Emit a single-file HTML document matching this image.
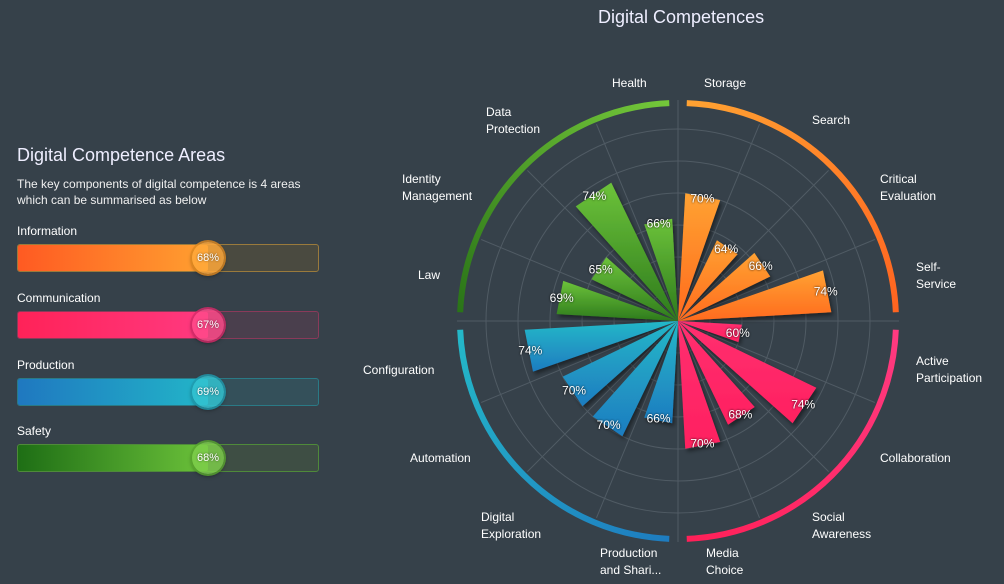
<!DOCTYPE html>
<html><head><meta charset="utf-8"><style>
html,body{margin:0;padding:0;background:#36414a;width:1004px;height:584px;overflow:hidden;font-family:"Liberation Sans",sans-serif;color:#fff}
.t{position:absolute;white-space:nowrap}
.bar{position:absolute;left:17px;width:302px;height:28px;box-sizing:border-box;border-radius:3px}
.fill{position:absolute;left:0;top:0;bottom:0;width:190px;border-radius:2px}
.knob{position:absolute;left:174px;top:-3px;width:32px;height:32px;border-radius:50%;font-size:11px;line-height:32px;text-align:center;color:#fff;text-shadow:0 0 2px rgba(0,0,0,.6)}
</style></head><body>
<div class="t" style="left:17px;top:145px;font-size:18px;color:#eef">Digital Competence Areas</div>
<div class="t" style="left:17px;top:176px;font-size:12px;line-height:16px;color:#f0f0f0">The key components of digital competence is 4 areas<br>which can be summarised as below</div>

<div class="t" style="left:17px;top:224px;font-size:12px">Information</div>
<div class="bar" style="top:244px;border:1px solid #9a7a3c;background:#4a4a40">
 <div class="fill" style="background:linear-gradient(90deg,#ff5a22,#ffa030)"></div>
 <div class="knob" style="background:rgba(255,168,58,.85);box-shadow:0 0 0 2px rgba(224,138,32,.8),0 2px 4px rgba(0,0,0,.5)">68%</div></div>

<div class="t" style="left:17px;top:291px;font-size:12px">Communication</div>
<div class="bar" style="top:311px;border:1px solid #8a3a5a;background:#4a3f4d">
 <div class="fill" style="background:linear-gradient(90deg,#ff2258,#ff3a80)"></div>
 <div class="knob" style="background:rgba(255,74,138,.85);box-shadow:0 0 0 2px rgba(216,42,106,.8),0 2px 4px rgba(0,0,0,.5)">67%</div></div>

<div class="t" style="left:17px;top:358px;font-size:12px">Production</div>
<div class="bar" style="top:378px;border:1px solid #2a7a86;background:#34505a">
 <div class="fill" style="background:linear-gradient(90deg,#1f78c0,#22b5c8)"></div>
 <div class="knob" style="background:rgba(51,194,208,.85);box-shadow:0 0 0 2px rgba(31,156,176,.8),0 2px 4px rgba(0,0,0,.5)">69%</div></div>

<div class="t" style="left:17px;top:424px;font-size:12px">Safety</div>
<div class="bar" style="top:444px;border:1px solid #4f8a3a;background:#3e4e44">
 <div class="fill" style="background:linear-gradient(90deg,#1e6e15,#6cc23a)"></div>
 <div class="knob" style="background:rgba(124,204,74,.85);box-shadow:0 0 0 2px rgba(90,168,48,.8),0 2px 4px rgba(0,0,0,.5)">68%</div></div>

<div class="t" style="left:598px;top:7px;font-size:18px;color:#eef">Digital Competences</div>

<svg id="s" width="1004" height="584" style="position:absolute;left:0;top:0" xmlns="http://www.w3.org/2000/svg">
<defs>
<linearGradient id="go" x1="0" y1="0" x2="0" y2="1"><stop offset="0" stop-color="#ffa232"/><stop offset="1" stop-color="#ff6a1e"/></linearGradient>
<linearGradient id="gp" x1="0" y1="0" x2="0" y2="1"><stop offset="0" stop-color="#ff3070"/><stop offset="1" stop-color="#ff2060"/></linearGradient>
<linearGradient id="gb" x1="0" y1="0" x2="0" y2="1"><stop offset="0" stop-color="#24b8c8"/><stop offset="1" stop-color="#1e7cc0"/></linearGradient>
<linearGradient id="gg" x1="0" y1="0" x2="0" y2="1"><stop offset="0" stop-color="#6cc23a"/><stop offset="1" stop-color="#2d7a1c"/></linearGradient>
<linearGradient id="ao" x1="0" y1="0" x2="1" y2="1"><stop offset="0" stop-color="#ffa232"/><stop offset="1" stop-color="#ff6420"/></linearGradient>
<linearGradient id="ap" x1="1" y1="0" x2="0" y2="1"><stop offset="0" stop-color="#ff3a80"/><stop offset="1" stop-color="#ff2058"/></linearGradient>
<linearGradient id="ab" x1="0" y1="0" x2="1" y2="1"><stop offset="0" stop-color="#24b8c8"/><stop offset="1" stop-color="#1e7cc0"/></linearGradient>
<linearGradient id="ag" x1="0" y1="1" x2="1" y2="0"><stop offset="0" stop-color="#2a7418"/><stop offset="1" stop-color="#74c83a"/></linearGradient>
<filter id="sh" x="-20%" y="-20%" width="140%" height="140%"><feDropShadow dx="2" dy="3" stdDeviation="2" flood-color="#000" flood-opacity="0.45"/></filter>
</defs>
<g id="grid" stroke="#505b64" stroke-width="1" fill="none"></g>
<g id="arcs" fill="none" stroke-width="6"></g>
<g id="bars" filter="url(#sh)"></g>
<g id="lbl" font-size="12" fill="#fff" text-anchor="middle" style="text-shadow:0 0 2px #000"></g>
<g id="cat" font-size="12" fill="#fff"></g>
</svg>
<script>
var cx=678,cy=321,NS="http://www.w3.org/2000/svg";
function el(t,a,p){var e=document.createElementNS(NS,t);for(var k in a)e.setAttribute(k,a[k]);document.getElementById(p).appendChild(e);return e}
function pt(r,d){var a=d*Math.PI/180;return [cx+r*Math.sin(a),cy-r*Math.cos(a)]}
for(var i=1;i<=6;i++)el("circle",{cx:cx,cy:cy,r:32*i},"grid");
for(var i=0;i<16;i++){var p=pt(i%4==0?221:213,i*22.5);el("line",{x1:cx,y1:cy,x2:p[0],y2:p[1]},"grid")}
var ac=["ao","ap","ab","ag"];
for(var q=0;q<4;q++){var a0=q*90+2.3,a1=q*90+87.7,p0=pt(218,a0),p1=pt(218,a1);
el("path",{d:"M"+p0[0]+" "+p0[1]+"A218 218 0 0 1 "+p1[0]+" "+p1[1],stroke:"url(#"+ac[q]+")"},"arcs")}
var v=[70,64,66,74,60,74,68,70,66,70,70,74,69,65,74,66];
var gc=["go","gp","gb","gg"];
for(var i=0;i<16;i++){var L=(v[i]-50)*6.4,c=11.25+22.5*i,p0=pt(L,c-8),p1=pt(L,c+8);
el("path",{d:"M"+cx+" "+cy+"L"+p0[0]+" "+p0[1]+"L"+p1[0]+" "+p1[1]+"Z",fill:"url(#"+gc[Math.floor(i/4)]+")"},"bars");
var lp=pt(L-3,c);var t=el("text",{x:lp[0],y:lp[1]+4},"lbl");t.textContent=v[i]+"%"}
var cats=[["Storage",704,83],["Search",812,120],["Critical|Evaluation",880,179],["Self-|Service",916,267],["Active|Participation",916,361],["Collaboration",880,458],["Social|Awareness",812,517],["Media|Choice",706,553],["Production|and Shari...",600,553],["Digital|Exploration",481,517],["Automation",410,458],["Configuration",363,370],["Law",418,275],["Identity|Management",402,179],["Data|Protection",486,112],["Health",612,83]];
cats.forEach(function(c){var ls=c[0].split("|");ls.forEach(function(s,j){var t=el("text",{x:c[1],y:c[2]+4+j*17},"cat");t.textContent=s})});
</script>
</body></html>
